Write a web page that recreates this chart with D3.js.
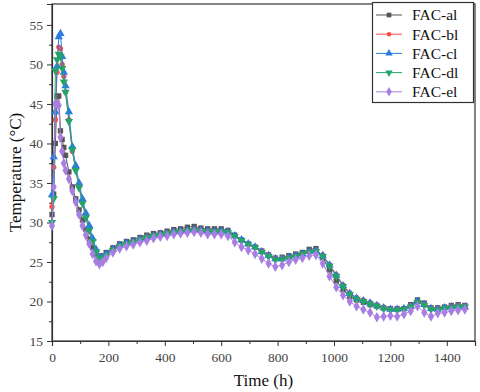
<!DOCTYPE html>
<meta charset="utf-8">
<html>
<head>
<title>FAC temperature</title>
<style>
    *{ margin:0; padding:0;}
    body{ background:#fff;}
    svg text{ font-family:"Liberation Serif","Times New Roman",serif;}
</style>
<script src="https://cdn.jsdelivr.net/npm/d3@7"></script>
</head>
<body>
<div id="chart"></div>
<script>
// time axis (h)
var times = [0,6,12,18,24,30,36,42,48,60,72,84,96,108,120,132,144,156,168,180,192,
    216,240,264,288,312,336,360,384,408,432,456,480,504,528,552,576,600,624,648,672,696,720,
    744,768,792,816,840,864,888,912,936,960,984,1008,1032,1056,1080,1104,1128,1152,1176,1200,
    1224,1248,1272,1296,1320,1344,1368,1392,1416,1440,1464];

var facAl = [31,33.6,40,46,46,41.6,40.5,39.5,38.5,36.4,34.5,33,31.6,30.3,29.1,27.9,26.8,26,25.6,25.8,26.2,
    26.8,27.3,27.6,27.8,28.1,28.4,28.6,28.7,28.9,29.1,29.2,29.4,29.5,29.3,29.2,29.2,29.2,29.0,28.4,27.8,27.3,26.9,
    26.4,25.9,25.5,25.6,25.8,26.0,26.2,26.6,26.7,25.6,24.0,22.6,21.5,20.6,20.2,19.9,19.6,19.4,19.2,19.1,
    19.1,19.1,19.6,20.2,19.8,19.2,19.2,19.3,19.5,19.6,19.5];

var facBl = [32,37,43,49,52.2,52,50,48.5,46.5,43,39,36.8,34.6,32.6,30.8,29.2,27.8,26.5,25.6,25.5,25.9,
    26.6,27.0,27.4,27.6,27.9,28.2,28.4,28.5,28.7,28.8,28.9,29.0,29.1,29.0,29.0,28.9,28.9,28.8,28.3,27.8,27.3,26.9,
    26.4,25.9,25.5,25.5,25.6,25.8,26.1,26.3,26.4,25.9,24.7,23.4,22.1,21.1,20.5,20.2,19.9,19.6,19.3,19.1,
    19.1,19.1,19.5,20.0,19.7,19.2,19.1,19.2,19.4,19.5,19.4];

var facCl = [33.5,38.3,44,49.8,53.5,53.9,51,49,47.3,44,39.6,37.2,35,33,31.2,29.6,28,26.6,25.6,25.6,26.0,
    26.6,27.1,27.4,27.6,27.9,28.1,28.3,28.5,28.6,28.8,28.9,29.0,29.1,29.0,28.9,28.9,28.9,28.8,28.3,27.8,27.3,26.9,
    26.3,25.8,25.4,25.4,25.6,25.8,26.0,26.3,26.4,25.8,24.6,23.3,22.0,21.0,20.4,20.1,19.8,19.5,19.2,19.0,
    19.0,19.1,19.4,20.0,19.6,19.1,19.0,19.2,19.3,19.4,19.3];

var facDl = [30,33,49.2,50.6,51.3,51,49.5,47.8,46.5,42.8,39.2,36.6,34.4,32.4,30.6,29,27.6,26.3,25.5,25.4,25.8,
    26.5,27.0,27.3,27.5,27.8,28.1,28.3,28.4,28.6,28.7,28.8,28.9,29.0,28.9,28.8,28.8,28.8,28.7,28.2,27.7,27.2,26.8,
    26.2,25.7,25.3,25.3,25.5,25.7,26.0,26.2,26.3,25.7,24.5,23.2,21.9,20.9,20.3,20.0,19.7,19.4,19.1,18.9,
    18.9,19.0,19.3,19.9,19.5,19.0,18.9,19.1,19.2,19.3,19.3];

var facEl = [29.6,34.5,45,45,44.8,40.8,39,37.5,36.6,35.5,34,32.6,31,29.6,28.4,27.3,26,25.1,24.7,25.0,25.5,
    26.2,26.7,27.0,27.2,27.5,27.7,28.0,28.2,28.3,28.5,28.6,28.7,28.8,28.7,28.5,28.5,28.5,28.3,27.5,26.9,26.5,26.0,
    25.4,24.8,24.4,24.6,25.0,25.3,25.5,25.8,25.9,24.8,23.2,21.8,20.8,20.0,19.4,19.0,18.6,18.0,18.1,18.2,
    18.1,18.4,18.8,19.4,18.6,18.1,18.5,18.6,18.8,18.9,19.0];

var seriesNames = ["FAC-al","FAC-bl","FAC-cl","FAC-dl","FAC-el"];
var seriesVals = [facAl, facBl, facCl, facDl, facEl];
var colors = ["#555555","#ff4a4a","#2b7be4","#25a46a","#a97ee2"];
var shapes = [d3.symbolSquare, d3.symbolCircle, d3.symbolTriangle, d3.symbolTriangle, d3.symbolDiamond];
var symSizes = [28, 22, 30, 30, 32];
var xTicks = [0,200,400,600,800,1000,1200,1400];
var yTicks = [15,20,25,30,35,40,45,50,55];

var W = 480, H = 392;
var mLeft = 52, mRight = 475, mTop = 4, mBottom = 341;

var svg = d3.select("#chart").append("svg").attr("width", W).attr("height", H);

var x = d3.scaleLinear().domain([0,1500]).range([mLeft, mRight]);
var y = d3.scaleLinear().domain([15,57.65]).range([mBottom, mTop]);

// frame
svg.append("rect").attr("x", mLeft).attr("y", mTop)
    .attr("width", mRight-mLeft).attr("height", mBottom-mTop)
    .attr("fill", "none").attr("stroke", "#333").attr("stroke-width", 1.2);

// minor ticks
var xMinor = d3.range(100, 1500, 200);
var yMinor = d3.range(17.5, 57.5, 5);
svg.append("g").attr("transform", "translate(0," + mBottom + ")")
    .call(d3.axisBottom(x).tickValues(xMinor).tickSize(3).tickFormat(""))
    .call(function(g){ g.select(".domain").remove(); g.selectAll("line").attr("stroke","#333"); });
svg.append("g").attr("transform", "translate(" + mLeft + ",0)")
    .call(d3.axisLeft(y).tickValues(yMinor).tickSize(3).tickFormat(""))
    .call(function(g){ g.select(".domain").remove(); g.selectAll("line").attr("stroke","#333"); });

var gx = svg.append("g").attr("transform", "translate(0," + mBottom + ")")
    .call(d3.axisBottom(x).tickValues(xTicks).tickSize(5).tickPadding(6).tickFormat(d3.format("d")));
var gy = svg.append("g").attr("transform", "translate(" + mLeft + ",0)")
    .call(d3.axisLeft(y).tickValues(yTicks).tickSize(5).tickPadding(4));
[gx, gy].forEach(function(g){
    g.select(".domain").attr("stroke","#333").attr("stroke-width",1.2);
    g.selectAll("line").attr("stroke","#333");
    g.selectAll("text").attr("fill","#444").style("font-size","13.5px")
        .style("font-family","'Liberation Serif','Times New Roman',serif");
});

// axis titles
svg.append("text").attr("x", (mLeft+mRight)/2).attr("y", 386)
    .attr("text-anchor","middle").style("font-size","17px").attr("fill","#111")
    .text("Time (h)");
svg.append("text").attr("transform", "translate(15," + ((mTop+mBottom)/2) + ") rotate(-90)")
    .attr("text-anchor","middle").attr("dy","0.35em").style("font-size","17px").attr("fill","#111")
    .text("Temperature (°C)");

// series
var line = d3.line().x(function(d){ return x(d[0]); }).y(function(d){ return y(d[1]); });
seriesVals.forEach(function(vals, i){
    var pts = times.map(function(t, j){ return [t, vals[j]]; });
    var g = svg.append("g");
    g.append("path").datum(pts).attr("d", line)
        .attr("fill","none").attr("stroke", colors[i]).attr("stroke-width", 1);
    var sym = d3.symbol().type(shapes[i]).size(symSizes[i]);
    g.selectAll("path.m").data(pts).enter().append("path").attr("class","m")
        .attr("d", sym)
        .attr("transform", function(d){
            return "translate(" + x(d[0]) + "," + y(d[1]) + ")" + (i == 3 ? " rotate(180)" : "");
        })
        .attr("fill", colors[i]);
});

// legend
var lg = svg.append("g");
lg.append("rect").attr("x", 372.5).attr("y", 2.5).attr("width", 101).attr("height", 100)
    .attr("fill","#fff").attr("stroke","#333").attr("stroke-width",1.2);
seriesNames.forEach(function(name, i){
    var ly = 15 + i*19.2;
    lg.append("line").attr("x1",376).attr("x2",402).attr("y1",ly).attr("y2",ly)
        .attr("stroke", colors[i]).attr("stroke-width",1);
    lg.append("path").attr("d", d3.symbol().type(shapes[i]).size(symSizes[i] - 6))
        .attr("transform","translate(389," + ly + ")" + (i == 3 ? " rotate(180)" : ""))
        .attr("fill", colors[i]);
    lg.append("text").attr("x", 412).attr("y", ly).attr("dy","0.35em")
        .style("font-size","15.5px").attr("fill","#111").text(name);
});
</script>
</body>
</html>
